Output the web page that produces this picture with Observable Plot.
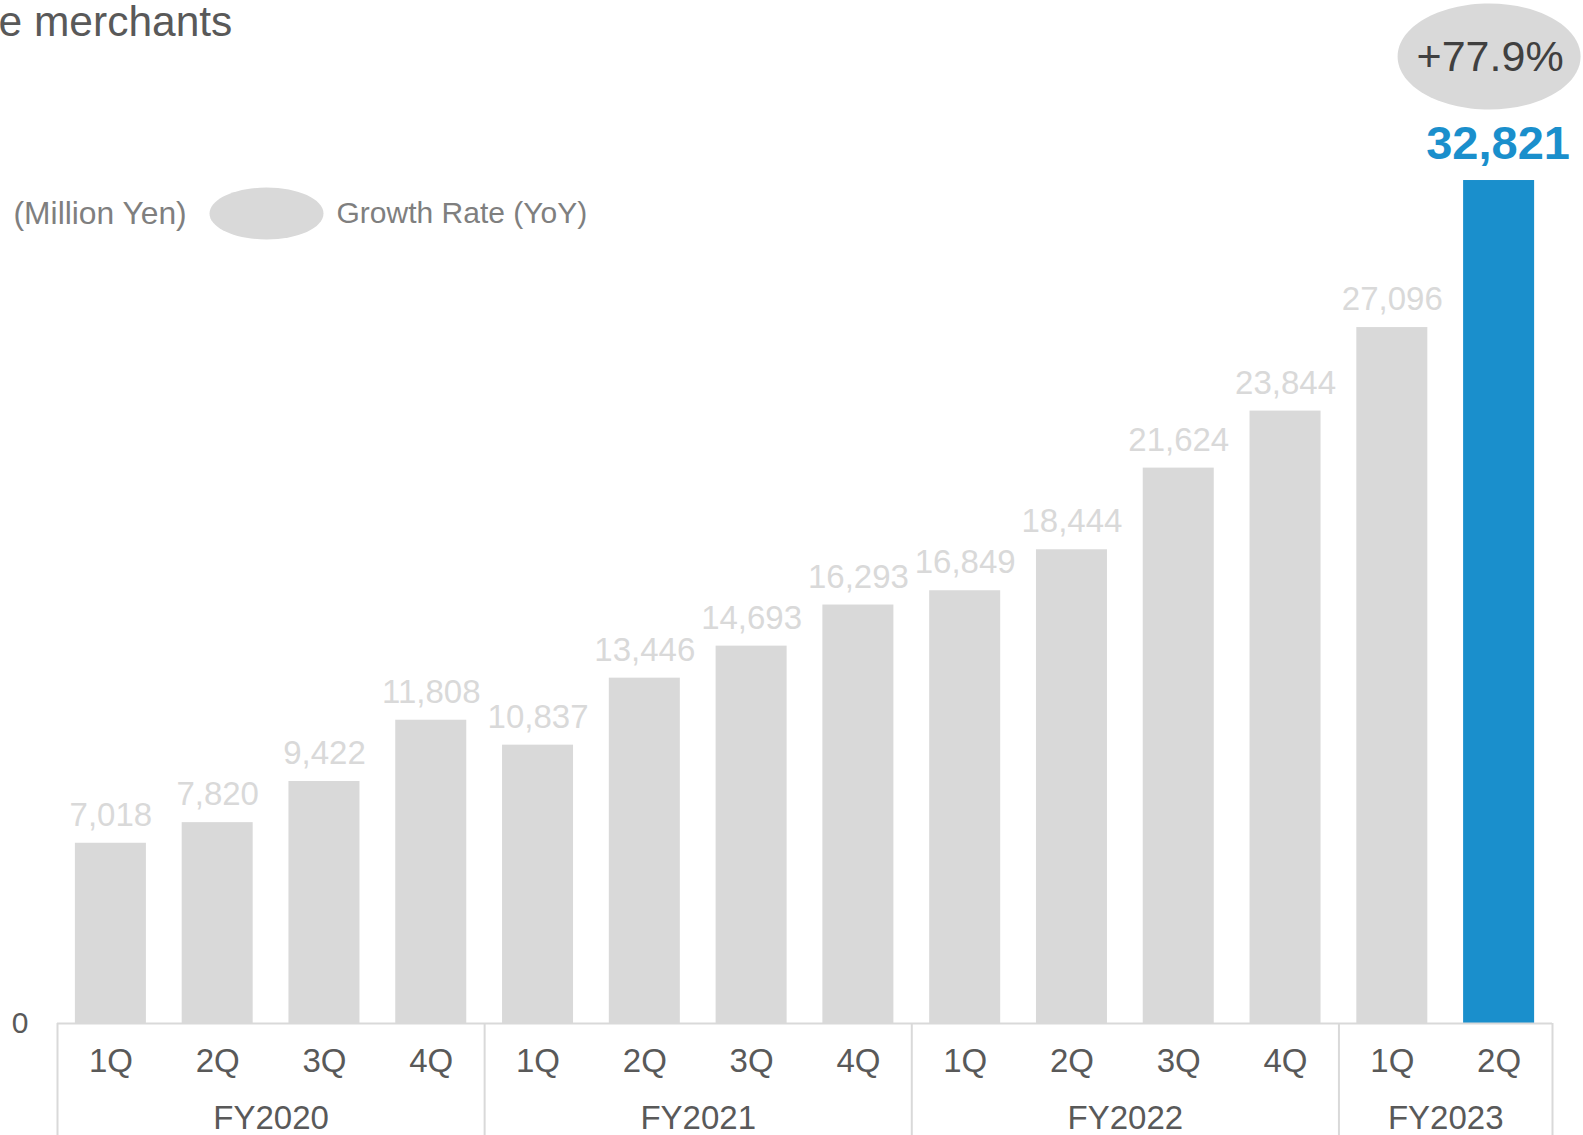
<!DOCTYPE html>
<html>
<head>
<meta charset="utf-8">
<script src="https://cdn.jsdelivr.net/npm/d3@7"></script>
<script src="https://cdn.jsdelivr.net/npm/@observablehq/plot@0.6"></script>
<style>
  html, body { margin: 0; padding: 0; background: #ffffff; }
  #chart svg { display: block; }
</style>
</head>
<body>
<div id="chart"></div>
<script>
// ---- Data ----
const quarters = ["1Q","2Q","3Q","4Q","1Q","2Q","3Q","4Q","1Q","2Q","3Q","4Q","1Q","2Q"];
const fiscalYears = ["FY2020","FY2020","FY2020","FY2020","FY2021","FY2021","FY2021","FY2021","FY2022","FY2022","FY2022","FY2022","FY2023","FY2023"];
const values = [7018, 7820, 9422, 11808, 10837, 13446, 14693, 16293, 16849, 18444, 21624, 23844, 27096, 32821];
const yearGroups = ["FY2020","FY2021","FY2022","FY2023"];
const growthLabel = "+77.9%";
const titleText = "e merchants";
const unitLabel = "(Million Yen)";
const legendLabel = "Growth Rate (YoY)";

// ---- Derived table ----
const data = values.map((v, i) => ({i, q: quarters[i], fy: fiscalYears[i], v, last: i === values.length - 1}));
const groups = yearGroups.map(fy => {
  const idx = data.filter(d => d.fy === fy).map(d => d.i);
  return {fy, first: d3.min(idx), last: d3.max(idx), mid: (d3.min(idx) + d3.max(idx)) / 2};
});
const dividers = [groups[0].first - 0.5, ...groups.map(g => g.last + 0.5)];

// ellipse symbol (aspect = ry/rx)
const ellipse = aspect => ({
  draw(ctx, size) {
    const rx = Math.sqrt(size / Math.PI), ry = rx * aspect, k = 0.5522848;
    ctx.moveTo(rx, 0);
    ctx.bezierCurveTo(rx, k * ry, k * rx, ry, 0, ry);
    ctx.bezierCurveTo(-k * rx, ry, -rx, k * ry, -rx, 0);
    ctx.bezierCurveTo(-rx, -k * ry, -k * rx, -ry, 0, -ry);
    ctx.bezierCurveTo(k * rx, -ry, rx, -k * ry, rx, 0);
    ctx.closePath();
  }
});

const GRAY = "#d9d9d9", BLUE = "#1a8fcc", TEXT = "#595959", LEG = "#7f7f7f";
const FONT = "'Liberation Sans', Arial, sans-serif";
const half = 0.3325;

const chart = Plot.plot({
  width: 1583,
  height: 1135,
  marginLeft: 57,
  marginRight: 31,
  marginTop: 0,
  marginBottom: 112,
  style: {fontFamily: FONT, fontSize: "33px", color: TEXT, background: "#ffffff", overflow: "visible"},
  x: {type: "linear", domain: [-0.5, values.length - 0.5], axis: null},
  y: {domain: [0, 39830], axis: null},
  marks: [
    // bars
    Plot.rectY(data, {x1: d => d.i - half, x2: d => d.i + half, y1: 0, y2: "v", fill: d => d.last ? BLUE : GRAY}),
    // axis baseline
    Plot.ruleY([0], {stroke: GRAY, strokeWidth: 2}),
    // group dividers extending below axis
    Plot.ruleX(dividers, {x: d => d, y1: 0, y2: 0, insetBottom: -112, stroke: GRAY, strokeWidth: 2}),
    // value labels
    Plot.text(data.filter(d => !d.last), {x: "i", y: "v", text: d => d3.format(",")(d.v), dy: -28, fill: GRAY, fontSize: 33}),
    Plot.text(data.filter(d => d.last), {x: "i", y: "v", text: d => d3.format(",")(d.v), dy: -37, dx: -1, fill: BLUE, fontSize: 47, fontWeight: "bold"}),
    // growth ellipse
    Plot.dot(data.filter(d => d.last), {x: "i", frameAnchor: "top", dy: 56, dx: -10, r: 91.5, symbol: ellipse(53 / 91.5), fill: GRAY, stroke: "none"}),
    Plot.text([growthLabel], {x: () => values.length - 1, frameAnchor: "top", lineAnchor: "middle", dy: 57, dx: -9, text: d => d, fill: "#404040", fontSize: 43}),
    // zero label
    Plot.text([0], {y: d => d, frameAnchor: "left", lineAnchor: "middle", dx: -29, textAnchor: "end", text: d => String(d), fill: TEXT, fontSize: 30}),
    // quarter labels
    Plot.text(data, {x: "i", frameAnchor: "bottom", lineAnchor: "middle", dy: 38, text: "q", fill: TEXT, fontSize: 33}),
    // fiscal-year labels
    Plot.text(groups, {x: "mid", frameAnchor: "bottom", lineAnchor: "middle", dy: 95, text: "fy", fill: TEXT, fontSize: 33}),
    // title (cut off at left)
    Plot.text([titleText], {frameAnchor: "top-left", lineAnchor: "middle", dx: -59, dy: 22, textAnchor: "start", text: d => d, fill: TEXT, fontSize: 42.5}),
    // legend
    Plot.text([unitLabel], {frameAnchor: "top-left", lineAnchor: "middle", dx: -44, dy: 213, textAnchor: "start", text: d => d, fill: LEG, fontSize: 31.8}),
    Plot.dot([legendLabel], {frameAnchor: "top-left", dx: 209, dy: 213, r: 57, symbol: ellipse(26 / 57), fill: GRAY, stroke: "none"}),
    Plot.text([legendLabel], {frameAnchor: "top-left", lineAnchor: "middle", dx: 279, dy: 213, textAnchor: "start", text: d => d, fill: LEG, fontSize: 30})
  ]
});
document.getElementById("chart").appendChild(chart);
</script>
</body>
</html>
